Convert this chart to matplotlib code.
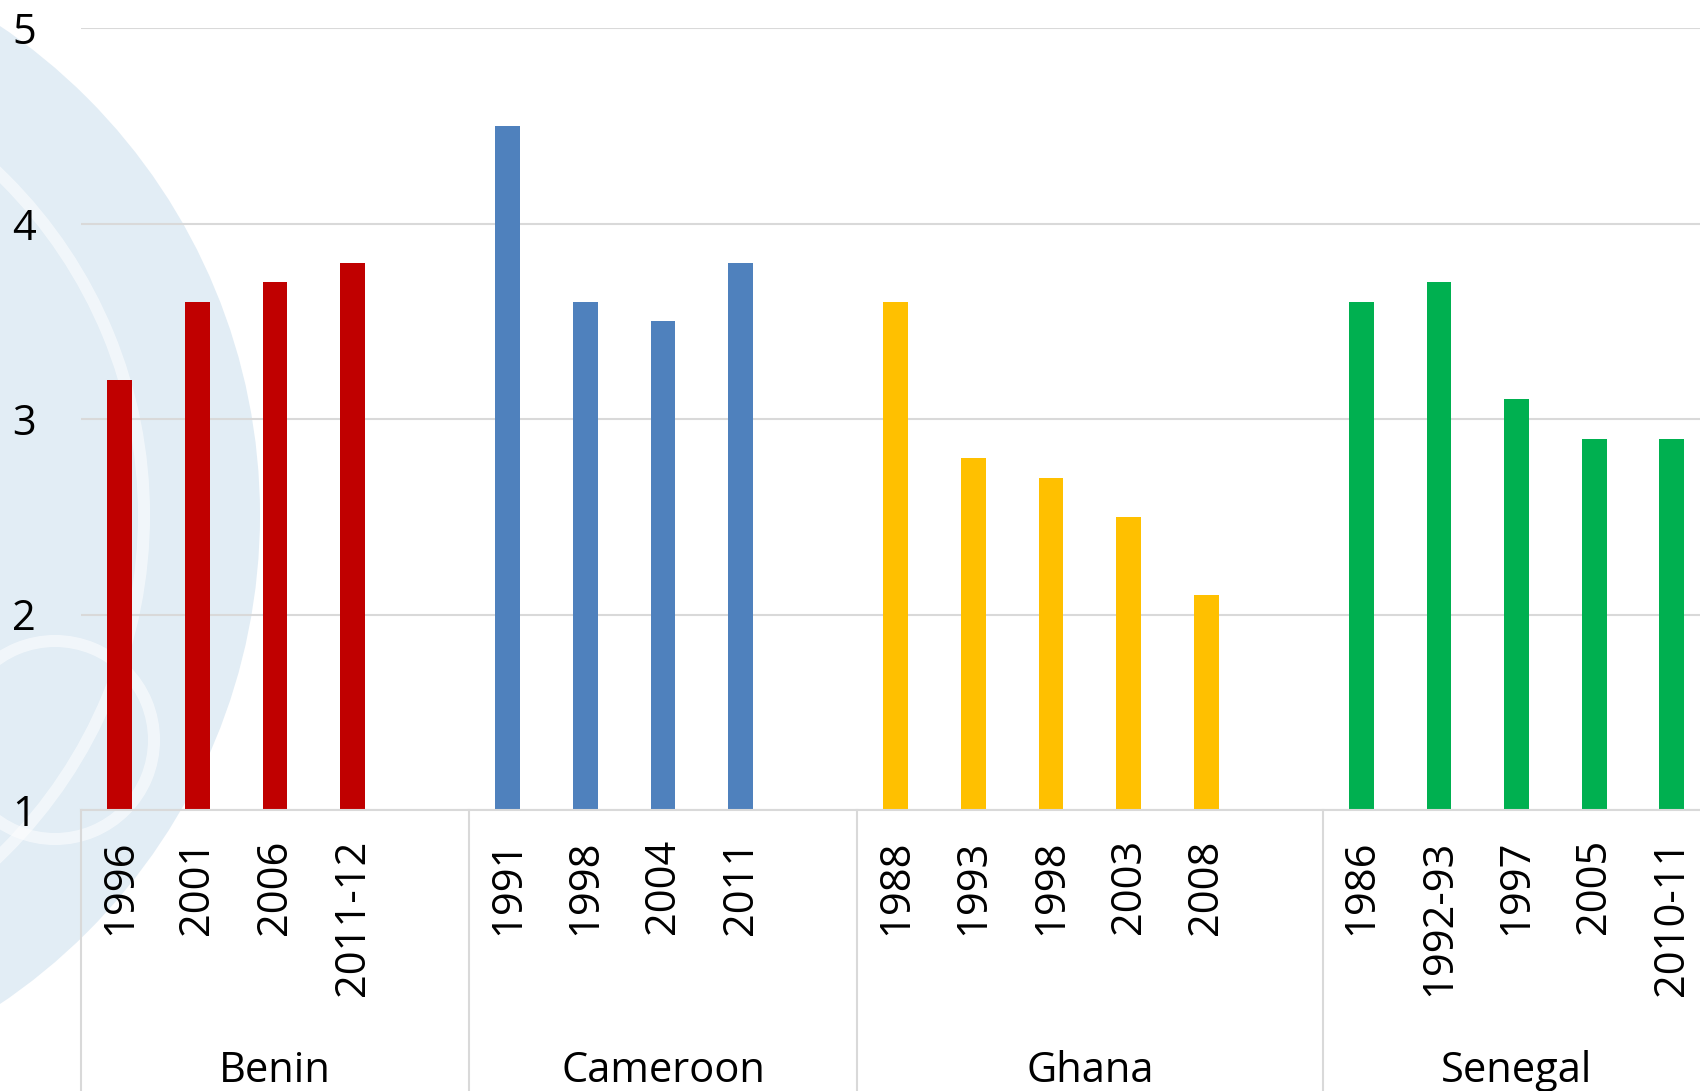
import matplotlib
matplotlib.use("Agg")
import matplotlib.pyplot as plt
import matplotlib.transforms as mtransforms
from matplotlib.patches import Circle, Wedge

countries = ["Benin", "Cameroon", "Ghana", "Senegal"]
years = [
    ["1996", "2001", "2006", "2011-12"],
    ["1991", "1998", "2004", "2011"],
    ["1988", "1993", "1998", "2003", "2008"],
    ["1986", "1992-93", "1997", "2005", "2010-11"],
]
values = [
    [3.2, 3.6, 3.7, 3.8],
    [4.5, 3.6, 3.5, 3.8],
    [3.6, 2.8, 2.7, 2.5, 2.1],
    [3.6, 3.7, 3.1, 2.9, 2.9],
]
colors = ["#C00000", "#4F81BD", "#FFC000", "#00B050"]
y_ticks = [1, 2, 3, 4, 5]

FONT = "Open Sans"
FS = 30
GRID = "#D9D9D9"
W, H = 1700, 1091

fig = plt.figure(figsize=(W / 100, H / 100), dpi=100)

# faint seal in the background, mostly off the left edge
bg = fig.add_axes([0, 0, 1, 1], zorder=0)
bg.set_xlim(0, W)
bg.set_ylim(H, 0)
bg.axis("off")
seal = "#E2EDF5"
bg.add_patch(Circle((-330, 515), 590, color=seal, lw=0))
bg.add_patch(Wedge((-330, 515), 480, 0, 360, width=12, color="white", alpha=0.55, lw=0))
bg.add_patch(Wedge((55, 740), 105, 0, 360, width=12, color="white", alpha=0.55, lw=0))

# plot area runs slightly past the right edge of the figure
left, bottom, top = 81, 810, 28
slot = 77.6
n_slots = sum(len(y) for y in years) + len(years) - 1
ax = fig.add_axes([left / W, (H - bottom) / H, n_slots * slot / W, (bottom - top) / H],
                  zorder=1)
ax.set_facecolor("none")

xs, labels, group_edges, group_mid = [], [], [0], []
pos = 0
for i, (yrs, vals) in enumerate(zip(years, values)):
    x = [pos + k + 0.5 for k in range(len(yrs))]
    ax.bar(x, vals, width=0.32, color=colors[i], zorder=2)
    xs += x
    labels += yrs
    end = min(pos + len(yrs) + 1, n_slots)
    group_mid.append((pos + end) / 2)
    group_edges.append(end)
    pos = end

ax.set_xlim(0, n_slots)
ax.set_ylim(1, 5)
ax.set_xticks(xs)
ax.set_xticklabels(labels, rotation=90, fontsize=FS, family=FONT)
ax.set_yticks(y_ticks)
ax.set_yticklabels([str(v) for v in y_ticks], fontsize=FS, family=FONT)
ax.tick_params(axis="x", length=0, pad=21)
ax.tick_params(axis="y", length=0, pad=41)
for lbl in ax.get_yticklabels():
    lbl.set_horizontalalignment("center")

ax.yaxis.grid(True, color=GRID, lw=1.5)
ax.set_axisbelow(True)
for s in ["top", "right", "left"]:
    ax.spines[s].set_visible(False)
ax.spines["bottom"].set_color(GRID)
ax.spines["bottom"].set_linewidth(1.5)

trans = mtransforms.blended_transform_factory(ax.transData, ax.transAxes)
fig_bottom = -(H - bottom) / (bottom - top)
for e in group_edges:
    ax.plot([e, e], [0, fig_bottom], color=GRID, lw=1.5, transform=trans, clip_on=False)
for name, m in zip(countries, group_mid):
    ax.text(m, -0.334, name, transform=trans, ha="center", va="center",
            fontsize=FS, family=FONT)

fig.savefig("out.png", dpi=100)
